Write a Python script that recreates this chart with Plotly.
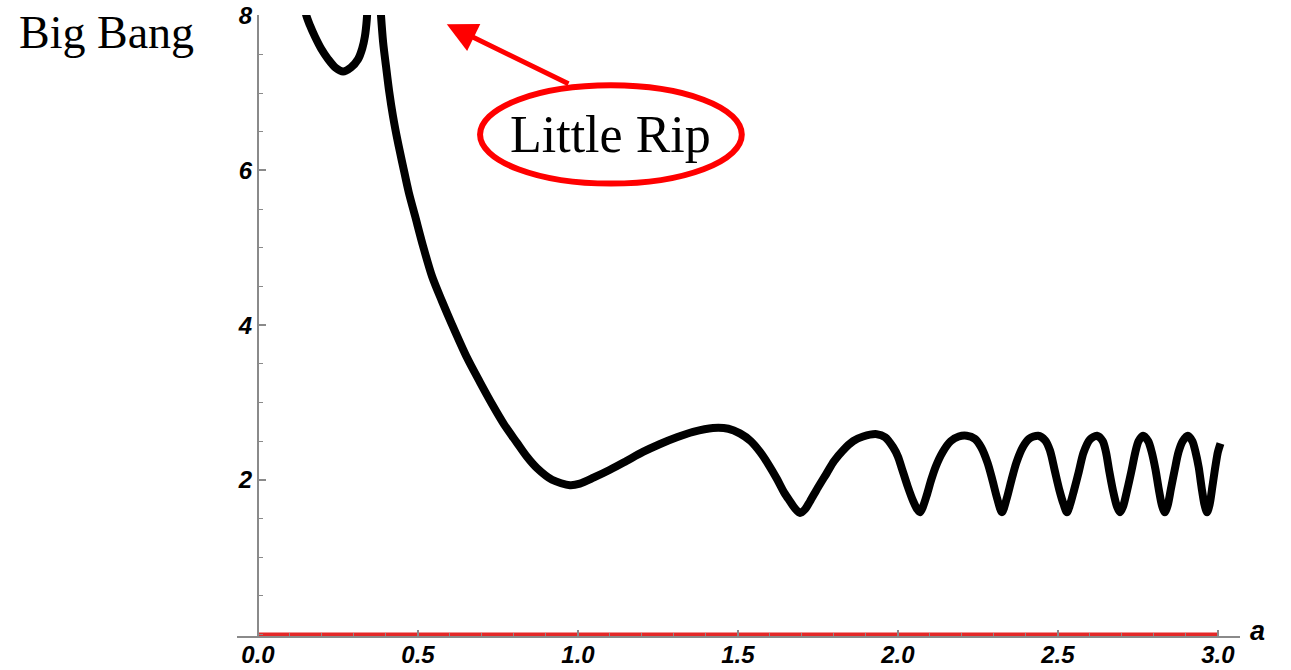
import plotly.graph_objects as go

# Left branch near the Big Bang (a U-shaped arc that leaves the top of the frame)
a_bang = [0.140, 0.150, 0.162, 0.178, 0.198, 0.219, 0.242, 0.266, 0.290, 0.313, 0.326, 0.334, 0.340, 0.344]
h_bang = [8.30, 8.02, 7.88, 7.73, 7.57, 7.44, 7.33, 7.28, 7.33, 7.44, 7.58, 7.73, 7.95, 8.30]

# Main branch: steep fall, broad minimum, then oscillations of growing frequency
a_main = [
    0.380, 0.384, 0.391, 0.400, 0.410, 0.422, 0.437, 0.453, 0.471, 0.491,
    0.516, 0.544, 0.575, 0.606, 0.653, 0.694, 0.734, 0.770, 0.809, 0.840,
    0.872, 0.919, 0.975, 1.006, 1.050, 1.100, 1.150, 1.203, 1.255,
    1.309, 1.360, 1.422, 1.470, 1.506, 1.540, 1.569, 1.595, 1.622, 1.645,
    1.663, 1.680, 1.694, 1.710, 1.725, 1.750, 1.778, 1.800, 1.828, 1.860,
    1.891, 1.934, 1.960, 1.985, 2.000, 2.012, 2.030, 2.048, 2.060, 2.069,
    2.078, 2.090, 2.104, 2.118, 2.140, 2.165, 2.190, 2.215, 2.240, 2.260,
    2.280, 2.295, 2.310, 2.325, 2.340, 2.355, 2.370, 2.390, 2.410, 2.438,
    2.460, 2.475, 2.490, 2.505, 2.518, 2.528, 2.538, 2.550, 2.565, 2.580,
    2.600, 2.622, 2.640, 2.650, 2.660, 2.672, 2.684, 2.694, 2.704, 2.716,
    2.730, 2.742, 2.752, 2.766, 2.782, 2.793, 2.805, 2.815, 2.825, 2.834,
    2.843, 2.853, 2.865, 2.877, 2.890, 2.906, 2.920, 2.930, 2.940, 2.949,
    2.958, 2.966, 2.974, 2.983, 2.992, 3.000, 3.008,
]
h_main = [
    8.30, 8.03, 7.66, 7.35, 7.02, 6.70, 6.37, 6.06, 5.72, 5.41,
    5.02, 4.63, 4.31, 4.01, 3.58, 3.26, 2.96, 2.71, 2.48, 2.30,
    2.15, 2.00, 1.93, 1.95, 2.03, 2.13, 2.24, 2.36, 2.46,
    2.55, 2.62, 2.67, 2.66, 2.60, 2.50, 2.36, 2.20, 2.01, 1.83,
    1.72, 1.62, 1.57, 1.62, 1.72, 1.90, 2.09, 2.24, 2.38, 2.50,
    2.56, 2.59, 2.55, 2.42, 2.30, 2.15, 1.92, 1.72, 1.62, 1.58,
    1.65, 1.80, 2.00, 2.17, 2.36, 2.50, 2.56, 2.57, 2.53, 2.42,
    2.22, 2.00, 1.76, 1.58, 1.76, 2.00, 2.22, 2.42, 2.53, 2.57,
    2.51, 2.38, 2.12, 1.86, 1.68, 1.58, 1.68, 1.86, 2.10, 2.35,
    2.52, 2.57, 2.50, 2.36, 2.12, 1.86, 1.66, 1.58, 1.66, 1.86,
    2.12, 2.36, 2.50, 2.57, 2.50, 2.36, 2.13, 1.88, 1.67, 1.58,
    1.67, 1.88, 2.13, 2.36, 2.50, 2.57, 2.50, 2.36, 2.16, 1.90,
    1.68, 1.58, 1.68, 1.92, 2.17, 2.36, 2.47,
]

# Zero curve drawn along the a-axis
a_zero = [0.0, 3.0]
h_zero = [0.0, 0.0]

x_ticks = [0.0, 0.5, 1.0, 1.5, 2.0, 2.5, 3.0]
x_ticktext = ["0.0", "0.5", "1.0", "1.5", "2.0", "2.5", "3.0"]
y_ticks = [2, 4, 6, 8]
y_ticktext = ["2", "4", "6", "8"]

X_RANGE = [-0.0656, 3.069]
Y_RANGE = [-0.02, 8.01]

AXIS_GRAY = "#8a8a8a"
tick_font = dict(family="Liberation Sans, Arial, sans-serif", size=24,
                 color="black", weight="bold", style="italic")

fig = go.Figure()

fig.add_trace(go.Scatter(x=a_zero, y=h_zero, mode="lines",
                         line=dict(color="rgb(228,40,40)", width=4),
                         hoverinfo="skip", showlegend=False))
fig.add_trace(go.Scatter(x=a_bang, y=h_bang, mode="lines",
                         line=dict(color="black", width=8, shape="spline", smoothing=0.8),
                         showlegend=False))
fig.add_trace(go.Scatter(x=a_main, y=h_main, mode="lines",
                         line=dict(color="black", width=8, shape="spline", smoothing=0.8),
                         showlegend=False))

# y-axis sits at a = 0 inside the wider a-range
y_axis_pos = (0 - X_RANGE[0]) / (X_RANGE[1] - X_RANGE[0])


def paper_x(a):
    """Convert an a-value to paper coordinates (for labels beyond the axis range)."""
    return (a - X_RANGE[0]) / (X_RANGE[1] - X_RANGE[0])


fig.update_layout(
    width=1291, height=670,
    margin=dict(l=237, r=51, t=15, b=34),
    paper_bgcolor="white", plot_bgcolor="white",
    xaxis=dict(
        range=X_RANGE, showgrid=False, zeroline=False, automargin=False,
        showline=True, linecolor=AXIS_GRAY, linewidth=2,
        ticks="inside", ticklen=6, tickwidth=1.5, tickcolor=AXIS_GRAY,
        tickvals=x_ticks, ticktext=x_ticktext, tickfont=tick_font,
        ticklabelstandoff=-4,
        minor=dict(dtick=0.1, tick0=0, ticks="inside", ticklen=3,
                   tickwidth=1.2, tickcolor=AXIS_GRAY, showgrid=False),
    ),
    yaxis=dict(
        range=Y_RANGE, showgrid=False, zeroline=False, automargin=False,
        anchor="free", position=y_axis_pos,
        showline=True, linecolor=AXIS_GRAY, linewidth=2,
        ticks="inside", ticklen=7, tickwidth=1.5, tickcolor=AXIS_GRAY,
        tickvals=y_ticks, ticktext=y_ticktext, tickfont=tick_font,
        minor=dict(dtick=0.5, tick0=0, ticks="inside", ticklen=4,
                   tickwidth=1.2, tickcolor=AXIS_GRAY, showgrid=False),
    ),
)

# Ellipse around the "Little Rip" label
fig.add_shape(type="circle", xref="x", yref="y",
              x0=0.694, x1=1.512, y0=5.83, y1=7.10,
              line=dict(color="#ff0000", width=6), fillcolor="rgba(0,0,0,0)")

# Arrow pointing from the label towards the top of the frame
fig.add_annotation(x=0.59, y=7.89, ax=0.975, ay=7.11, xref="x", yref="y",
                   axref="x", ayref="y", text="", showarrow=True,
                   arrowhead=2, arrowsize=1.2, arrowwidth=5, arrowcolor="#ff0000")

fig.add_annotation(x=1.103, y=6.46, xref="x", yref="y", text="Little Rip",
                   showarrow=False, xanchor="center", yanchor="middle",
                   font=dict(family="Liberation Serif, serif", size=52, color="black"))

fig.add_annotation(x=paper_x(-0.475), y=7.79, xref="paper", yref="y", text="Big Bang",
                   showarrow=False, xanchor="center", yanchor="middle",
                   font=dict(family="Liberation Serif, serif", size=46, color="black"))

# Axis name at the right end of the a-axis
fig.add_annotation(x=paper_x(3.125), y=0.05, xref="paper", yref="y", text="a",
                   showarrow=False, xanchor="center", yanchor="middle",
                   font=dict(family="Liberation Sans, Arial, sans-serif", size=27,
                             color="black", weight="bold", style="italic"))

fig.write_html("out.html")
